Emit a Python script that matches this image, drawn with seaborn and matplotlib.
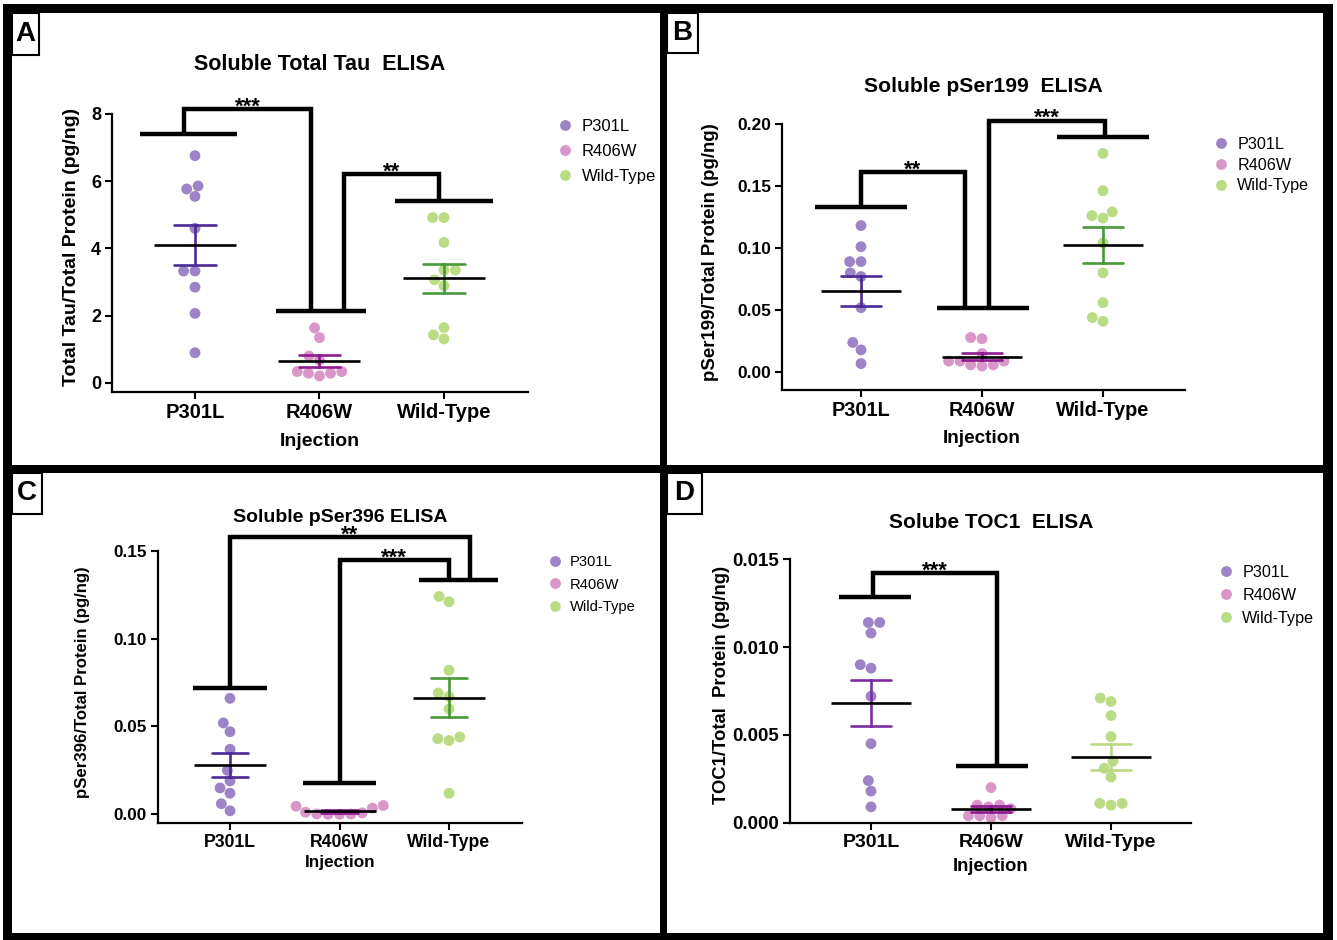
import numpy as np
import pandas as pd
import seaborn as sns
import matplotlib.pyplot as plt
from matplotlib.patches import Rectangle
from matplotlib.lines import Line2D

# ----------------------------------------------------------------------------
# data (values per animal)
# ----------------------------------------------------------------------------
groups = ['P301L', 'R406W', 'Wild-Type']

tau_p301l = [6.76, 5.86, 5.77, 5.55, 4.60, 3.33, 3.33, 2.85, 2.07, 0.90]
tau_r406w = [1.64, 1.35, 0.80, 0.68, 0.34, 0.34, 0.29, 0.29, 0.21]
tau_wt = [4.92, 4.92, 4.18, 3.36, 3.36, 3.07, 2.89, 1.65, 1.43, 1.31]

pser199_p301l = [0.118, 0.101, 0.089, 0.089, 0.080, 0.077, 0.052, 0.024, 0.018, 0.007]
pser199_r406w = [0.028, 0.027, 0.015, 0.009, 0.009, 0.009, 0.006, 0.006, 0.005]
pser199_wt = [0.176, 0.146, 0.129, 0.126, 0.124, 0.104, 0.080, 0.056, 0.044, 0.041]

pser396_p301l = [0.066, 0.052, 0.047, 0.037, 0.025, 0.019, 0.015, 0.012, 0.006, 0.002]
pser396_r406w = [0.0050, 0.0046, 0.0035, 0.0012, 0.0008, 0.0002, 0.0001, 0.0, 0.0]
pser396_wt = [0.124, 0.121, 0.082, 0.069, 0.067, 0.060, 0.044, 0.043, 0.042, 0.012]

toc1_p301l = [0.0114, 0.0114, 0.0108, 0.0090, 0.0088, 0.0072, 0.0045, 0.0024, 0.0018, 0.0009]
toc1_r406w = [0.0020, 0.0010, 0.0010, 0.0009, 0.0008, 0.0004, 0.0004, 0.0004, 0.0003]
toc1_wt = [0.0071, 0.0069, 0.0061, 0.0049, 0.0035, 0.0031, 0.0026, 0.0011, 0.0011, 0.0010]

# significance brackets: (x1, y1, x2, y2, top, label) and group bars (group, shift, half width, height)
tau_bars = [(0, -0.05, 0.39, 7.4), (1, 0.01, 0.36, 2.14), (2, 0.0, 0.39, 5.4)]
tau_links = [(-0.085, 7.4, 0.93, 2.14, 8.15, '***'), (1.2, 2.14, 1.96, 5.4, 6.22, '**')]
pser199_bars = [(0, 0.0, 0.38, 0.1332), (1, 0.01, 0.38, 0.0515), (2, 0.0, 0.38, 0.1895)]
pser199_links = [(0.0, 0.1332, 0.86, 0.0515, 0.161, '**'), (1.06, 0.0515, 2.02, 0.1895, 0.2023, '***')]
pser396_bars = [(0, 0.0, 0.335, 0.0721), (1, 0.0, 0.335, 0.018), (2, 0.09, 0.36, 0.1331)]
pser396_links = [(0.0, 0.0721, 2.19, 0.1331, 0.1578, '**'), (1.0, 0.018, 2.0, 0.1331, 0.1447, '***')]
toc1_bars = [(0, 0.03, 0.3, 0.01287), (1, 0.01, 0.3, 0.00323)]
toc1_links = [(0.02, 0.01287, 1.05, 0.00323, 0.0142, '***')]

dot_colors = ['#9d84c6', '#d896c9', '#badc85']
err_dark = ['#4b2a96', '#8e1c8e', '#4a983b']
err_light = ['#7b2ea0', '#8e1c8e', '#b8da84']

# ----------------------------------------------------------------------------
# figure
# ----------------------------------------------------------------------------
sns.set_theme(style='ticks')
plt.rcParams['font.family'] = ['Liberation Sans', 'DejaVu Sans']
plt.rcParams['text.color'] = 'black'
plt.rcParams['axes.labelcolor'] = 'black'
plt.rcParams['xtick.color'] = 'black'
plt.rcParams['ytick.color'] = 'black'

W, H = 1337, 940
fig = plt.figure(figsize=(W / 100, H / 100), dpi=100, facecolor='white')


def fx(x):
    return x / W


def fy(y):
    return 1 - y / H


def make_df(p, r, w):
    return pd.DataFrame({'Injection': ['P301L'] * len(p) + ['R406W'] * len(r) + ['Wild-Type'] * len(w),
                         'value': p + r + w})


panels = [
    dict(data=(tau_p301l, tau_r406w, tau_wt), err=err_dark, bars=tau_bars, links=tau_links,
         box=(112, 528, 392, 95), y0=383, ppu=33.625, cat0=195, sp=124.5,
         yticks=[0, 2, 4, 6, 8], fmt='{:.0f}', mean_len=59,
         title='Soluble Total Tau  ELISA', title_xy=(320, 65), title_fs=15.5,
         ylabel='Total Tau/Total Protein (pg/ng)', ylab_xy=(80, 247), ylab_fs=14,
         xlab_xy=(320, 433), xlab_fs=14, xtick_fs=14.5, ytick_fs=13,
         leg_xy=(557, 119), leg_fs=12, leg_sp=0.6),
    dict(data=(pser199_p301l, pser199_r406w, pser199_wt), err=err_dark, bars=pser199_bars, links=pser199_links,
         box=(782, 1185, 390, 105), y0=372.3, ppu=1243.5, cat0=861, sp=121,
         yticks=[0, 0.05, 0.10, 0.15, 0.20], fmt='{:.2f}', mean_len=57,
         title='Soluble pSer199  ELISA', title_xy=(983, 87), title_fs=15.2,
         ylabel='pSer199/Total Protein (pg/ng)', ylab_xy=(719, 252), ylab_fs=13.4,
         xlab_xy=(982, 430), xlab_fs=13.6, xtick_fs=14.3, ytick_fs=12.5,
         leg_xy=(1213, 137), leg_fs=11.6, leg_sp=0.35),
    dict(data=(pser396_p301l, pser396_r406w, pser396_wt), err=err_dark, bars=pser396_bars, links=pser396_links,
         box=(158, 522, 822.7, 530), y0=814.3, ppu=1757, cat0=230, sp=109.5,
         yticks=[0, 0.05, 0.10, 0.15], fmt='{:.2f}', mean_len=52,
         title='Soluble pSer396 ELISA', title_xy=(340, 518), title_fs=14,
         ylabel='pSer396/Total Protein (pg/ng)', ylab_xy=(90, 682), ylab_fs=12.1,
         xlab_xy=(340, 855), xlab_fs=12.3, xtick_fs=12.7, ytick_fs=12.3,
         leg_xy=(548, 555), leg_fs=10.6, leg_sp=0.58),
    dict(data=(toc1_p301l, toc1_r406w, toc1_wt), err=err_light, bars=toc1_bars, links=toc1_links,
         box=(790, 1191, 822.7, 540), y0=822.7, ppu=17560, cat0=871, sp=120,
         yticks=[0, 0.005, 0.010, 0.015], fmt='{:.3f}', mean_len=57,
         title='Solube TOC1  ELISA', title_xy=(991, 522), title_fs=15,
         ylabel='TOC1/Total  Protein (pg/ng)', ylab_xy=(730, 685), ylab_fs=13.3,
         xlab_xy=(991, 858), xlab_fs=13.3, xtick_fs=14, ytick_fs=13.5,
         leg_xy=(1218, 565), leg_fs=11.6, leg_sp=0.5),
]

for cfg in panels:
    L, R, B, T = cfg['box']
    ax = fig.add_axes([fx(L), fy(B), (R - L) / W, (B - T) / H])
    df = make_df(*cfg['data'])

    sns.swarmplot(data=df, x='Injection', y='value', hue='Injection', order=groups, hue_order=groups,
                  palette=dot_colors, size=7.8, legend=False, ax=ax, zorder=2)
    sns.pointplot(data=df, x='Injection', y='value', hue='Injection', order=groups, hue_order=groups,
                  palette=cfg['err'], errorbar='se', capsize=0.33, linestyle='none', markersize=0,
                  err_kws={'linewidth': 1.9, 'zorder': 4}, legend=False, ax=ax)
    sns.pointplot(data=df, x='Injection', y='value', order=groups, color='black', errorbar=None,
                  markers='_', markersize=cfg['mean_len'], markeredgewidth=1.9, linestyle='none',
                  ax=ax, zorder=5)

    # limits from pixel layout
    ylo = (cfg['y0'] - B) / cfg['ppu']
    yhi = (cfg['y0'] - T) / cfg['ppu']
    ax.set_ylim(ylo, yhi)
    ax.set_xlim((L - cfg['cat0']) / cfg['sp'], (R - cfg['cat0']) / cfg['sp'])
    ax.set_yticks(cfg['yticks'])
    ax.set_yticklabels([cfg['fmt'].format(v) for v in cfg['yticks']])
    sns.despine(ax=ax)
    ax.spines['left'].set_bounds(ylo, cfg['yticks'][-1])
    for s in ['left', 'bottom']:
        ax.spines[s].set_linewidth(1.6)
        ax.spines[s].set_color('black')
    ax.tick_params(axis='both', length=5, width=1.5, color='black', pad=3)
    ax.tick_params(axis='x', labelsize=cfg['xtick_fs'])
    ax.tick_params(axis='y', labelsize=cfg['ytick_fs'])
    for t in ax.get_xticklabels() + ax.get_yticklabels():
        t.set_fontweight('bold')
        t.set_color('black')

    ax.set_xlabel('Injection', fontsize=cfg['xlab_fs'], fontweight='bold', color='black')
    ax.set_ylabel(cfg['ylabel'], fontsize=cfg['ylab_fs'], fontweight='bold', color='black')
    ax.xaxis.set_label_coords(fx(cfg['xlab_xy'][0]), fy(cfg['xlab_xy'][1]), transform=fig.transFigure)
    ax.yaxis.set_label_coords(fx(cfg['ylab_xy'][0]), fy(cfg['ylab_xy'][1]), transform=fig.transFigure)

    # significance brackets
    for g, shift, half, h in cfg['bars']:
        ax.plot([g + shift - half, g + shift + half], [h, h], color='black', lw=3.2,
                solid_capstyle='butt', clip_on=False, zorder=6)
    for x1, y1, x2, y2, top, lab in cfg['links']:
        ax.plot([x1, x1, x2, x2], [y1, top, top, y2], color='black', lw=3.2,
                solid_joinstyle='miter', solid_capstyle='butt', clip_on=False, zorder=6)
        ax.annotate(lab, xy=((x1 + x2) / 2, top), xytext=(0, -2.5), textcoords='offset points',
                    ha='center', va='baseline', fontsize=16, fontweight='bold', annotation_clip=False)

    fig.text(fx(cfg['title_xy'][0]), fy(cfg['title_xy'][1]), cfg['title'], ha='center', va='center',
             fontsize=cfg['title_fs'], fontweight='bold', color='black')

    handles = [Line2D([], [], linestyle='none', marker='o', markersize=7.8, markerfacecolor=c,
                      markeredgecolor='none') for c in dot_colors]
    leg = ax.legend(handles, groups, loc='upper left',
                    bbox_to_anchor=(fx(cfg['leg_xy'][0]), fy(cfg['leg_xy'][1])),
                    bbox_transform=fig.transFigure, frameon=False, fontsize=cfg['leg_fs'],
                    borderaxespad=0, borderpad=0, handletextpad=0.5, handlelength=1.0,
                    labelspacing=cfg['leg_sp'])
    for t in leg.get_texts():
        t.set_color('black')

# ----------------------------------------------------------------------------
# frame lines and panel letters
# ----------------------------------------------------------------------------
def band(x0, y0, x1, y1):
    fig.add_artist(Rectangle((fx(x0), fy(y1)), (x1 - x0) / W, (y1 - y0) / H,
                             transform=fig.transFigure, facecolor='black', edgecolor='none', zorder=20))


band(3, 4, 1333, 13)
band(3, 4, 12, 939)
band(1323, 4, 1333, 939)
band(3, 933, 1333, 940)
band(660, 4, 667, 939)
band(3, 465, 1333, 473)

for lab, (x0, y0, x1, y1) in zip('ABCD', [(12, 13, 39, 55), (667, 13, 698, 53), (12, 473, 42, 514), (667, 473, 702, 514)]):
    fig.add_artist(Rectangle((fx(x0), fy(y1)), (x1 - x0) / W, (y1 - y0) / H, transform=fig.transFigure,
                             facecolor='white', edgecolor='black', lw=1.5, zorder=21))
    fig.text(fx((x0 + x1) / 2), fy((y0 + y1) / 2), lab, ha='center', va='center', fontsize=20,
             fontweight='bold', color='black', zorder=22)

fig.savefig('out.png', dpi=100, facecolor='white')
